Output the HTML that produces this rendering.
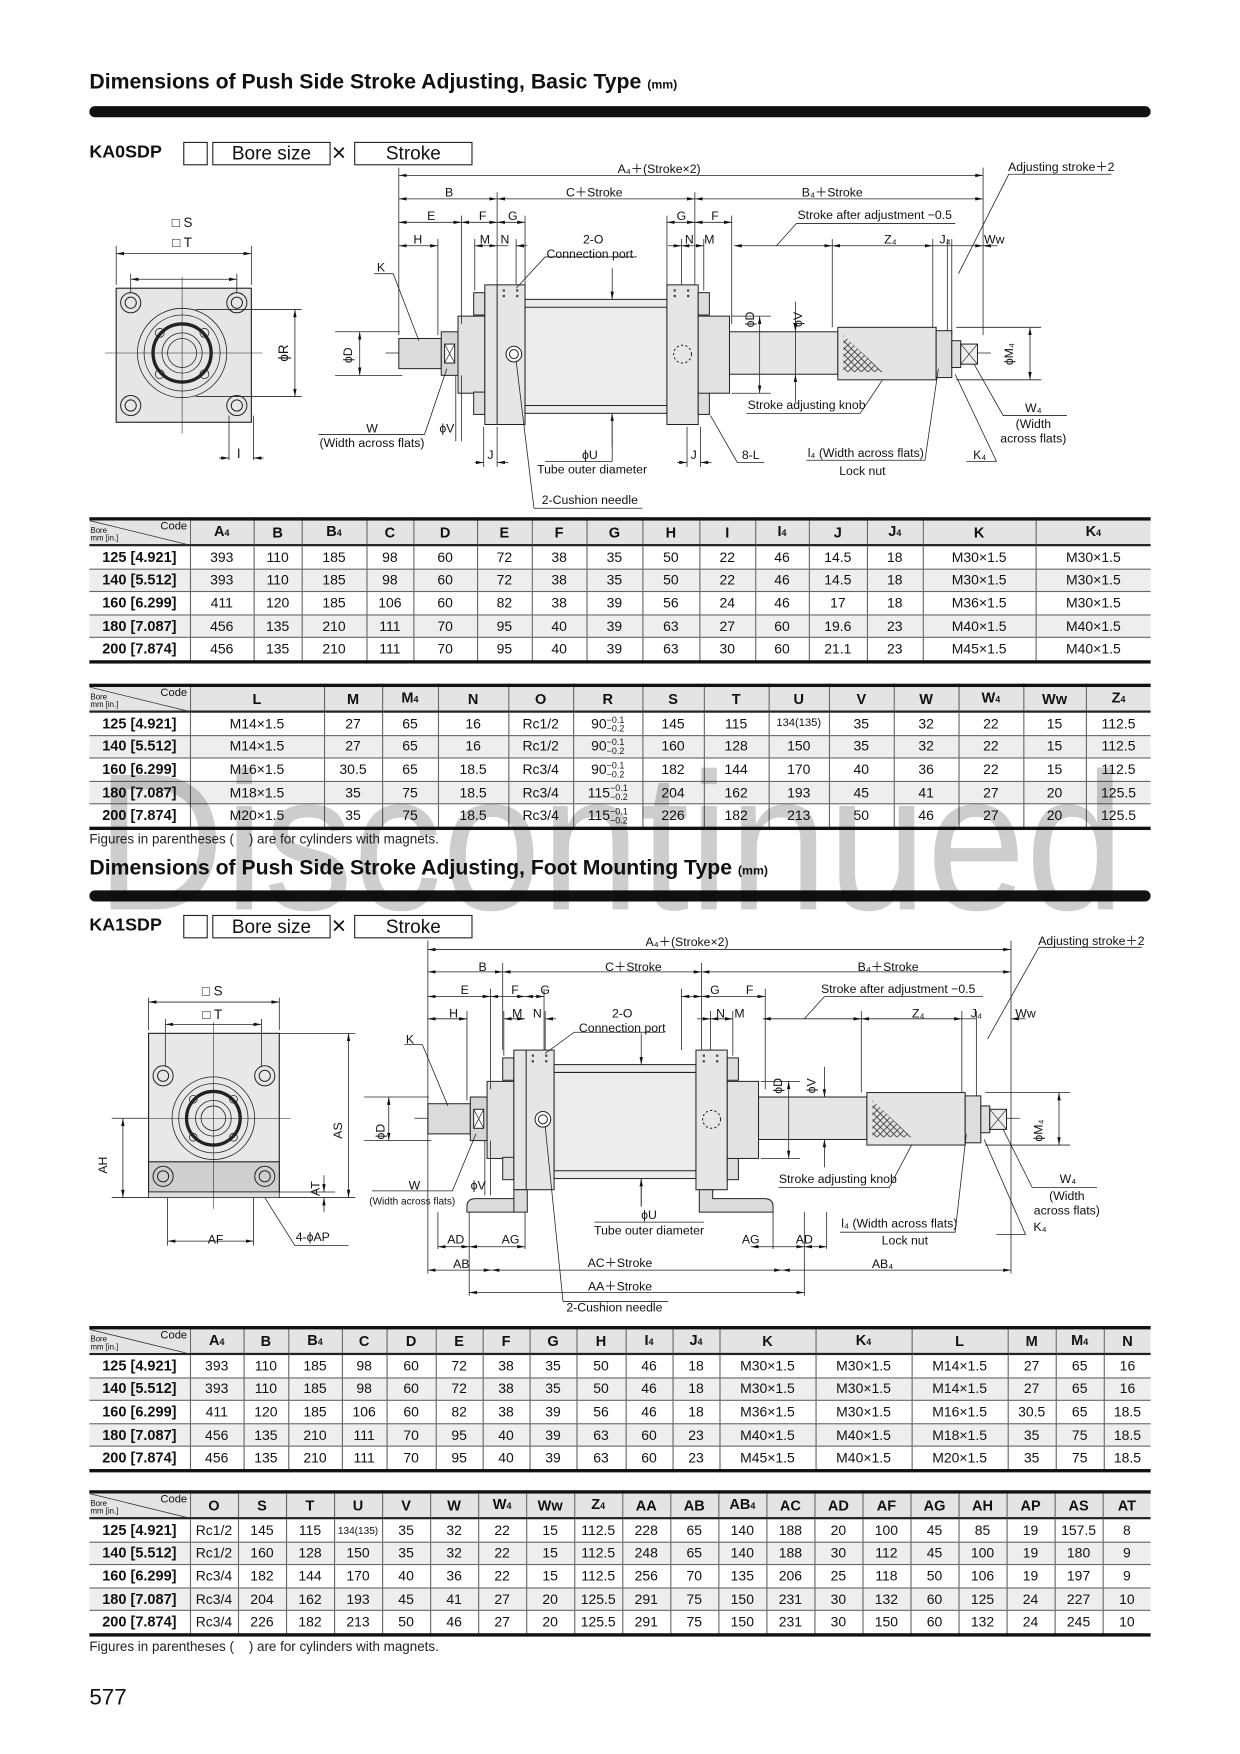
<!DOCTYPE html>
<html><head><meta charset="utf-8">
<style>
html,body{margin:0;padding:0;background:#fff;width:1240px;height:1754px;overflow:hidden}
#w{position:absolute;left:0;top:0;width:1110px;height:1570px;transform:scale(1.11712);transform-origin:0 0;font-family:"Liberation Sans",Arial,sans-serif;color:#111}
.a{position:absolute;white-space:nowrap}
.title{font-weight:bold;font-size:19px}
.title small{font-size:11px}
.bar{position:absolute;left:80px;width:950px;height:10px;background:#111;border-radius:5px}
.model{font-weight:bold;font-size:16px}
.bx{position:absolute;border:1px solid #222;height:19px;font-size:17px;line-height:19px;text-align:center}
table{position:absolute;border-collapse:collapse;table-layout:fixed;font-size:12.5px}
td,th{border:1px solid #666;text-align:center;padding:0;height:19.6px;line-height:18px;overflow:hidden;white-space:nowrap}
th{background:#e4e4e4;font-weight:bold;height:21px;font-size:13px}
tr.g td{background:#eeeeee}
td.b{font-weight:bold;font-size:13px}
table{border-top:3px solid #111;border-bottom:3px solid #111}
tr.h th{border-bottom:2px solid #222}
td:first-child,th:first-child{border-left:none}
td:last-child,th:last-child{border-right:none}
th.c{position:relative;font-weight:normal;background:#e4e4e4}
th.c span.t{position:absolute;right:2px;top:1px;font-size:10px;line-height:10px}
th.c span.l{position:absolute;left:1px;bottom:1px;font-size:7px;line-height:7px;text-align:left}
sub{font-size:8px;vertical-align:baseline}
.tol{display:inline-block;vertical-align:middle;font-size:8px;line-height:8px;text-align:left}
.note{font-size:12px;color:#222}
svg text{font-family:"Liberation Sans",Arial,sans-serif;fill:#111}
#wm{position:absolute;left:86px;top:655px;font-size:175px;color:#cdcdcd;mix-blend-mode:multiply;transform:scaleX(0.91);transform-origin:0 0;font-family:"Liberation Sans",Arial,sans-serif;line-height:200px;white-space:nowrap}
.x{position:absolute;font-size:22px;line-height:22px}
</style></head><body><div id="w">

<div class="a title" style="left:80px;top:63px">Dimensions of Push Side Stroke Adjusting, Basic Type <small>(mm)</small></div>
<div class="bar" style="top:95px"></div>
<div class="a model" style="left:80px;top:128px">KA0SDP</div>
<div class="bx" style="left:164px;top:127px;width:20px"></div>
<div class="bx" style="left:190px;top:127px;width:104px">Bore size</div>
<div class="x" style="left:297px;top:126px">×</div>
<div class="bx" style="left:317px;top:127px;width:104px">Stroke</div>

<svg class="a" style="left:0;top:0" width="1110" height="1570" viewBox="0 0 1110 1570">
<defs>
<marker id="ar" markerWidth="7" markerHeight="6" refX="7" refY="3" orient="auto-start-reverse" markerUnits="userSpaceOnUse"><path d="M0,1.5 L7,3 L0,4.5z" fill="#111"/></marker>
<pattern id="hx" width="6" height="6" patternUnits="userSpaceOnUse"><path d="M0,0L6,6M6,0L0,6" stroke="#333" stroke-width="0.7"/></pattern>
<g id="cyl" stroke="#222" stroke-width="0.9">
 <line x1="345" y1="316" x2="890" y2="316" stroke-dasharray="14,3,2,3" stroke-width="0.6"/>
 <rect x="357" y="303" width="38" height="27" fill="#dcdcdc"/>
 <rect x="395" y="297" width="15" height="39" fill="#d5d5d5"/>
 <rect x="398" y="308" width="9" height="17" fill="#fff"/><path d="M398,308L407,325M407,308L398,325" stroke-width="0.6"/>
 <rect x="410" y="283" width="24" height="69" fill="#e2e2e2"/>
 <rect x="424" y="262" width="10" height="20" fill="#ddd"/><rect x="424" y="351" width="10" height="20" fill="#ddd"/>
 <rect x="434" y="255" width="36" height="125" fill="#e6e6e6"/>
 <line x1="445" y1="255" x2="445" y2="380"/>
 <rect x="470" y="268" width="127" height="102" fill="#ececec"/>
 <line x1="470" y1="275" x2="597" y2="275"/><line x1="470" y1="363" x2="597" y2="363"/>
 <rect x="597" y="255" width="28" height="125" fill="#e6e6e6"/>
 <rect x="625" y="262" width="10" height="20" fill="#ddd"/><rect x="625" y="351" width="10" height="20" fill="#ddd"/>
 <rect x="625" y="283" width="28" height="69" fill="#e2e2e2"/>
 <rect x="653" y="297" width="97" height="38" fill="#e6e6e6"/>
 <rect x="750" y="293" width="88" height="47" fill="#e4e4e4"/>
 <path d="M755,300 L755,333 L790,333z" fill="url(#hx)" stroke="none"/>
 <rect x="838" y="296" width="14" height="42" fill="#ddd"/>
 <rect x="852" y="305" width="8" height="24" fill="#ddd"/>
 <rect x="860" y="308" width="15" height="18" fill="#eee"/><path d="M860,308L875,326M875,308L860,326" stroke-width="0.6"/>
 <circle cx="460" cy="317" r="7" fill="#fff"/><circle cx="460" cy="317" r="4" fill="none"/>
 <circle cx="611" cy="317" r="8" fill="none" stroke-dasharray="2,2"/>
 <g fill="#444" stroke="none"><rect x="450" y="259" width="2" height="2"/><rect x="450" y="264" width="2" height="2"/><rect x="462" y="259" width="2" height="2"/><rect x="462" y="264" width="2" height="2"/><rect x="603" y="259" width="2" height="2"/><rect x="603" y="264" width="2" height="2"/><rect x="615" y="259" width="2" height="2"/><rect x="615" y="264" width="2" height="2"/></g>
</g>
</defs>
<g stroke="#222" stroke-width="0.7" fill="none">
<rect x="104" y="258" width="121" height="120" fill="#e6e6e6" stroke-width="1"/>
<line x1="94" y1="316" x2="235" y2="316" stroke-width="0.5"/><line x1="163" y1="248" x2="163" y2="388" stroke-width="0.5"/>
<circle cx="163" cy="316" r="40"/><circle cx="163" cy="316" r="34"/><circle cx="163" cy="316" r="26" stroke-width="3"/><circle cx="163" cy="316" r="18"/><circle cx="163" cy="316" r="13"/>
<circle cx="143" cy="298" r="4"/><circle cx="183" cy="298" r="4"/><circle cx="143" cy="335" r="4"/><circle cx="183" cy="335" r="4"/>
<g stroke-width="0.9"><circle cx="117" cy="271" r="9"/><circle cx="117" cy="271" r="5"/><circle cx="212" cy="271" r="9"/><circle cx="212" cy="271" r="5"/><circle cx="117" cy="363" r="9"/><circle cx="117" cy="363" r="5"/><circle cx="212" cy="363" r="9"/><circle cx="212" cy="363" r="5"/></g>
<line x1="104" y1="220" x2="104" y2="255"/><line x1="225" y1="220" x2="225" y2="255"/>
<line x1="104" y1="227" x2="225" y2="227" marker-start="url(#ar)" marker-end="url(#ar)"/>
<line x1="117" y1="245" x2="117" y2="262"/><line x1="212" y1="245" x2="212" y2="262"/>
<line x1="117" y1="250" x2="212" y2="250" marker-start="url(#ar)" marker-end="url(#ar)"/>
<line x1="175" y1="277" x2="270" y2="277"/><line x1="175" y1="355" x2="270" y2="355"/>
<line x1="264" y1="277" x2="264" y2="355" marker-start="url(#ar)" marker-end="url(#ar)"/>
<line x1="205" y1="372" x2="205" y2="412"/><line x1="227" y1="372" x2="227" y2="412"/>
<line x1="196" y1="410" x2="205" y2="410" marker-end="url(#ar)"/><line x1="236" y1="410" x2="227" y2="410" marker-end="url(#ar)"/>
</g>
<text x="163" y="203" font-size="12" text-anchor="middle">□ S</text>
<text x="163" y="221" font-size="12" text-anchor="middle">□ T</text>
<text x="258" y="316" font-size="12" text-anchor="middle" transform="rotate(-90 258 316)">ϕR</text>
<text x="212" y="410" font-size="12">I</text>

<use href="#cyl"/>
<g stroke="#222" stroke-width="0.7" fill="none">
<line x1="357" y1="150" x2="357" y2="300"/><line x1="880" y1="150" x2="880" y2="300"/>
<line x1="445" y1="172" x2="445" y2="255"/><line x1="622" y1="172" x2="622" y2="255"/>
<line x1="413" y1="193" x2="413" y2="290"/><line x1="470" y1="193" x2="470" y2="255"/><line x1="597" y1="193" x2="597" y2="255"/><line x1="655" y1="193" x2="655" y2="290"/>
<line x1="392" y1="214" x2="392" y2="300"/><line x1="425" y1="214" x2="425" y2="260"/><line x1="462" y1="214" x2="462" y2="255"/><line x1="610" y1="214" x2="610" y2="255"/><line x1="630" y1="214" x2="630" y2="260"/>
<line x1="745" y1="214" x2="745" y2="293"/><line x1="835" y1="214" x2="835" y2="293"/><line x1="848" y1="214" x2="848" y2="296"/><line x1="852" y1="214" x2="852" y2="300"/>
<line x1="357" y1="157" x2="880" y2="157" marker-start="url(#ar)" marker-end="url(#ar)"/>
<line x1="357" y1="178" x2="445" y2="178" marker-start="url(#ar)" marker-end="url(#ar)"/>
<line x1="445" y1="178" x2="622" y2="178" marker-start="url(#ar)" marker-end="url(#ar)"/>
<line x1="622" y1="178" x2="880" y2="178" marker-start="url(#ar)" marker-end="url(#ar)"/>
<line x1="357" y1="199" x2="413" y2="199" marker-start="url(#ar)" marker-end="url(#ar)"/>
<line x1="413" y1="199" x2="445" y2="199" marker-start="url(#ar)" marker-end="url(#ar)"/>
<line x1="445" y1="199" x2="470" y2="199" marker-start="url(#ar)" marker-end="url(#ar)"/>
<line x1="597" y1="199" x2="622" y2="199" marker-start="url(#ar)" marker-end="url(#ar)"/>
<line x1="622" y1="199" x2="655" y2="199" marker-start="url(#ar)" marker-end="url(#ar)"/>
<line x1="357" y1="220" x2="392" y2="220" marker-start="url(#ar)" marker-end="url(#ar)"/>
<line x1="425" y1="220" x2="445" y2="220" marker-start="url(#ar)" marker-end="url(#ar)"/>
<line x1="445" y1="220" x2="455" y2="220"/><line x1="472" y1="220" x2="462" y2="220" marker-end="url(#ar)"/>
<line x1="598" y1="220" x2="610" y2="220" marker-end="url(#ar)"/>
<line x1="610" y1="220" x2="630" y2="220" marker-start="url(#ar)" marker-end="url(#ar)"/>
<line x1="657" y1="220" x2="745" y2="220" marker-start="url(#ar)" marker-end="url(#ar)"/>
<line x1="745" y1="220" x2="835" y2="220" marker-start="url(#ar)" marker-end="url(#ar)"/>
<line x1="835" y1="220" x2="848" y2="220"/><line x1="848" y1="220" x2="880" y2="220" marker-end="url(#ar)"/><line x1="893" y1="220" x2="880" y2="220" marker-end="url(#ar)"/>
<path d="M855,200 L713,200 L695,220"/>
<path d="M995,156 L903,156 L858,245"/>
<path d="M570,230 L488,230 L462,258"/>
<line x1="335" y1="245" x2="352" y2="245"/><line x1="352" y1="245" x2="375" y2="305"/>
<line x1="300" y1="297" x2="358" y2="297"/><line x1="300" y1="336" x2="360" y2="336"/>
<line x1="322" y1="297" x2="322" y2="336" marker-start="url(#ar)" marker-end="url(#ar)"/>
<path d="M285,389 L380,389 L400,330"/>
<line x1="408" y1="336" x2="408" y2="395"/><line x1="413" y1="336" x2="413" y2="395"/>
<line x1="433" y1="382" x2="433" y2="418"/><line x1="445" y1="382" x2="445" y2="418"/>
<line x1="425" y1="414" x2="433" y2="414" marker-end="url(#ar)"/><line x1="455" y1="414" x2="445" y2="414" marker-end="url(#ar)"/>
<line x1="462" y1="323" x2="478" y2="455"/><line x1="478" y1="455" x2="575" y2="455"/>
<line x1="548" y1="240" x2="548" y2="268" marker-end="url(#ar)"/><line x1="548" y1="400" x2="548" y2="370" marker-end="url(#ar)"/>
<line x1="488" y1="413" x2="548" y2="413"/><line x1="548" y1="370" x2="548" y2="413"/>
<line x1="615" y1="382" x2="615" y2="418"/><line x1="627" y1="382" x2="627" y2="418"/>
<line x1="606" y1="414" x2="615" y2="414" marker-end="url(#ar)"/><line x1="637" y1="414" x2="627" y2="414" marker-end="url(#ar)"/>
<path d="M636,372 L660,414 L684,414"/>
<line x1="655" y1="283" x2="690" y2="283"/><line x1="655" y1="352" x2="690" y2="352"/>
<line x1="680" y1="283" x2="680" y2="352" marker-start="url(#ar)" marker-end="url(#ar)"/>
<line x1="712" y1="270" x2="712" y2="297" marker-end="url(#ar)"/><line x1="712" y1="360" x2="712" y2="335" marker-end="url(#ar)"/><line x1="712" y1="297" x2="712" y2="335"/>
<path d="M668,370 L770,370 L790,340"/>
<line x1="856" y1="293" x2="932" y2="293"/><line x1="856" y1="340" x2="932" y2="340"/>
<line x1="922" y1="293" x2="922" y2="340" marker-start="url(#ar)" marker-end="url(#ar)"/>
<path d="M722,412 L828,412 L840,330"/>
<path d="M865,413 L892,413 L855,335"/>
<path d="M955,372 L898,372 L872,326"/>
</g>
<g font-size="11" text-anchor="middle">
<text x="590" y="155">A₄＋(Stroke×2)</text>
<text x="402" y="176">B</text><text x="532" y="176">C＋Stroke</text><text x="745" y="176">B₄＋Stroke</text>
<text x="386" y="197">E</text><text x="432" y="197">F</text><text x="459" y="197">G</text><text x="610" y="197">G</text><text x="640" y="197">F</text>
<text x="783" y="196">Stroke after adjustment −0.5</text>
<text x="950" y="153">Adjusting stroke＋2</text>
<text x="374" y="218">H</text><text x="434" y="218">M</text><text x="452" y="218">N</text><text x="617" y="218">N</text><text x="635" y="218">M</text>
<text x="797" y="218">Z₄</text><text x="846" y="218">J₄</text><text x="890" y="218">Ww</text>
<text x="531" y="218">2-O</text><text x="528" y="231">Connection port</text>
<text x="341" y="243">K</text>
<text x="315" y="318" transform="rotate(-90 315 318)">ϕD</text>
<text x="675" y="286" transform="rotate(-90 675 286)">ϕD</text>
<text x="718" y="286" transform="rotate(-90 718 286)">ϕV</text>
<text x="907" y="317" transform="rotate(-90 907 317)">ϕM₄</text>
<text x="333" y="387">W</text><text x="333" y="400">(Width across flats)</text>
<text x="400" y="387">ϕV</text>
<text x="439" y="411">J</text><text x="621" y="411">J</text>
<text x="528" y="411">ϕU</text><text x="530" y="424">Tube outer diameter</text>
<text x="672" y="411">8-L</text>
<text x="528" y="451">2-Cushion needle</text>
<text x="722" y="366">Stroke adjusting knob</text>
<text x="775" y="409">l₄ (Width across flats)</text><text x="772" y="425">Lock nut</text>
<text x="877" y="411">K₄</text>
<text x="925" y="369">W₄</text><text x="925" y="383">(Width</text><text x="925" y="396">across flats)</text>
</g>

<g stroke="#222" stroke-width="0.7" fill="none">
<rect x="133" y="925" width="117" height="142" fill="#e8e8e8" stroke-width="1"/>
<rect x="133" y="1040" width="117" height="27" fill="#cfcfcf" stroke-width="1"/>
<rect x="133" y="1067" width="117" height="5" fill="#ddd"/>
<line x1="120" y1="1001" x2="260" y2="1001" stroke-width="0.5"/><line x1="191" y1="915" x2="191" y2="1082" stroke-width="0.5"/>
<circle cx="191" cy="1001" r="37"/><circle cx="191" cy="1001" r="31"/><circle cx="191" cy="1001" r="24" stroke-width="3"/><circle cx="191" cy="1001" r="16"/><circle cx="191" cy="1001" r="11"/>
<circle cx="173" cy="984" r="3.5"/><circle cx="209" cy="984" r="3.5"/><circle cx="173" cy="1018" r="3.5"/><circle cx="209" cy="1018" r="3.5"/>
<g stroke-width="0.9"><circle cx="146" cy="963" r="9"/><circle cx="146" cy="963" r="5"/><circle cx="237" cy="963" r="9"/><circle cx="237" cy="963" r="5"/><circle cx="146" cy="1053" r="9"/><circle cx="146" cy="1053" r="5"/><circle cx="237" cy="1053" r="9"/><circle cx="237" cy="1053" r="5"/></g>
<line x1="133" y1="893" x2="133" y2="922"/><line x1="250" y1="893" x2="250" y2="922"/>
<line x1="133" y1="897" x2="250" y2="897" marker-start="url(#ar)" marker-end="url(#ar)"/>
<line x1="148" y1="912" x2="148" y2="955"/><line x1="234" y1="912" x2="234" y2="955"/>
<line x1="148" y1="917" x2="234" y2="917" marker-start="url(#ar)" marker-end="url(#ar)"/>
<line x1="250" y1="925" x2="318" y2="925"/><line x1="250" y1="1072" x2="318" y2="1072"/>
<line x1="312" y1="925" x2="312" y2="1072" marker-start="url(#ar)" marker-end="url(#ar)"/>
<line x1="100" y1="1001" x2="133" y2="1001"/><line x1="100" y1="1072" x2="133" y2="1072"/>
<line x1="110" y1="1001" x2="110" y2="1072" marker-start="url(#ar)" marker-end="url(#ar)"/>
<line x1="250" y1="1067" x2="300" y2="1067"/>
<line x1="290" y1="1052" x2="290" y2="1067" marker-end="url(#ar)"/><line x1="290" y1="1085" x2="290" y2="1072" marker-end="url(#ar)"/>
<line x1="150" y1="1072" x2="150" y2="1115"/><line x1="227" y1="1072" x2="227" y2="1115"/>
<line x1="150" y1="1111" x2="227" y2="1111" marker-start="url(#ar)" marker-end="url(#ar)"/>
<path d="M312,1115 L264,1115 L237,1072"/>
</g>
<text x="190" y="891" font-size="12" text-anchor="middle">□ S</text>
<text x="190" y="912" font-size="12" text-anchor="middle">□ T</text>
<text x="306" y="1012" font-size="11" text-anchor="middle" transform="rotate(-90 306 1012)">AS</text>
<text x="96" y="1043" font-size="11" text-anchor="middle" transform="rotate(-90 96 1043)">AH</text>
<text x="286" y="1064" font-size="11" text-anchor="middle" transform="rotate(-90 286 1064)">AT</text>
<text x="193" y="1113" font-size="11" text-anchor="middle">AF</text>
<text x="280" y="1111" font-size="11" text-anchor="middle">4-ϕAP</text>

<g transform="translate(26,685)">
<use href="#cyl"/>
<g stroke="#222" stroke-width="0.9" fill="#dcdcdc">
<path d="M434,380 L434,388 L400,388 Q392,388 392,395 L392,400 L434,400 L434,380 L446,380 L446,400 L434,400z"/>
<path d="M600,380 L600,400 L666,400 L666,395 Q666,388 658,388 L612,388 L612,380z"/>
</g>
</g>
<g stroke="#222" stroke-width="0.7" fill="none">
<line x1="383" y1="842" x2="383" y2="1140"/><line x1="905" y1="842" x2="905" y2="1140"/>
<line x1="383" y1="850" x2="905" y2="850" marker-start="url(#ar)" marker-end="url(#ar)"/>
<line x1="450" y1="862" x2="450" y2="940"/><line x1="628" y1="862" x2="628" y2="940"/>
<line x1="383" y1="870" x2="450" y2="870" marker-start="url(#ar)" marker-end="url(#ar)"/>
<line x1="450" y1="870" x2="628" y2="870" marker-start="url(#ar)" marker-end="url(#ar)"/>
<line x1="628" y1="870" x2="905" y2="870" marker-start="url(#ar)" marker-end="url(#ar)"/>
<line x1="439" y1="885" x2="439" y2="975"/><line x1="487" y1="885" x2="487" y2="940"/><line x1="610" y1="885" x2="610" y2="940"/><line x1="685" y1="885" x2="685" y2="975"/>
<line x1="383" y1="892" x2="439" y2="892" marker-start="url(#ar)" marker-end="url(#ar)"/>
<line x1="439" y1="892" x2="470" y2="892" marker-start="url(#ar)" marker-end="url(#ar)"/>
<line x1="470" y1="892" x2="487" y2="892" marker-start="url(#ar)" marker-end="url(#ar)"/>
<line x1="610" y1="892" x2="628" y2="892" marker-start="url(#ar)" marker-end="url(#ar)"/>
<line x1="628" y1="892" x2="685" y2="892" marker-start="url(#ar)" marker-end="url(#ar)"/>
<line x1="418" y1="905" x2="418" y2="985"/><line x1="451" y1="905" x2="451" y2="945"/><line x1="488" y1="905" x2="488" y2="940"/><line x1="636" y1="905" x2="636" y2="940"/><line x1="656" y1="905" x2="656" y2="945"/>
<line x1="771" y1="905" x2="771" y2="978"/><line x1="861" y1="905" x2="861" y2="978"/><line x1="874" y1="905" x2="874" y2="981"/>
<line x1="383" y1="912" x2="418" y2="912" marker-start="url(#ar)" marker-end="url(#ar)"/>
<line x1="451" y1="912" x2="470" y2="912" marker-start="url(#ar)" marker-end="url(#ar)"/>
<line x1="498" y1="912" x2="488" y2="912" marker-end="url(#ar)"/>
<line x1="624" y1="912" x2="636" y2="912" marker-end="url(#ar)"/>
<line x1="636" y1="912" x2="656" y2="912" marker-start="url(#ar)" marker-end="url(#ar)"/>
<line x1="683" y1="912" x2="771" y2="912" marker-start="url(#ar)" marker-end="url(#ar)"/>
<line x1="771" y1="912" x2="861" y2="912" marker-start="url(#ar)" marker-end="url(#ar)"/>
<line x1="861" y1="912" x2="874" y2="912"/><line x1="918" y1="912" x2="905" y2="912" marker-end="url(#ar)"/>
<path d="M880,892 L738,892 L720,912"/>
<path d="M1022,848 L930,848 L884,930"/>
<path d="M595,924 L514,924 L488,943"/>
<line x1="362" y1="935" x2="378" y2="935"/><line x1="378" y1="935" x2="401" y2="990"/>
<line x1="326" y1="982" x2="384" y2="982"/><line x1="326" y1="1021" x2="386" y2="1021"/>
<line x1="348" y1="982" x2="348" y2="1021" marker-start="url(#ar)" marker-end="url(#ar)"/>
<path d="M333,1066 L405,1066 L426,1015"/>
<line x1="434" y1="1021" x2="434" y2="1070"/><line x1="439" y1="1021" x2="439" y2="1070"/>
<line x1="488" y1="1008" x2="504" y2="1165"/><line x1="504" y1="1165" x2="598" y2="1165"/>
<line x1="574" y1="925" x2="574" y2="953" marker-end="url(#ar)"/><line x1="574" y1="1080" x2="574" y2="1055" marker-end="url(#ar)"/><line x1="574" y1="1055" x2="574" y2="1080"/>
<line x1="532" y1="1094" x2="630" y2="1094"/>
<line x1="681" y1="968" x2="716" y2="968"/><line x1="681" y1="1037" x2="716" y2="1037"/>
<line x1="706" y1="968" x2="706" y2="1037" marker-start="url(#ar)" marker-end="url(#ar)"/>
<line x1="738" y1="955" x2="738" y2="982" marker-end="url(#ar)"/><line x1="738" y1="1045" x2="738" y2="1020" marker-end="url(#ar)"/>
<path d="M697,1063 L796,1063 L816,1025"/>
<line x1="882" y1="978" x2="958" y2="978"/><line x1="882" y1="1025" x2="958" y2="1025"/>
<line x1="948" y1="978" x2="948" y2="1025" marker-start="url(#ar)" marker-end="url(#ar)"/>
<path d="M752,1103 L855,1103 L865,1015"/>
<path d="M892,1105 L918,1105 L881,1020"/>
<path d="M982,1063 L924,1063 L898,1011"/>
<line x1="392" y1="1085" x2="392" y2="1118"/><line x1="420" y1="1085" x2="420" y2="1160"/><line x1="470" y1="1085" x2="470" y2="1118"/>
<line x1="692" y1="1085" x2="692" y2="1118"/><line x1="720" y1="1085" x2="720" y2="1160"/><line x1="740" y1="1085" x2="740" y2="1118"/>
<line x1="392" y1="1116" x2="420" y2="1116" marker-start="url(#ar)" marker-end="url(#ar)"/>
<line x1="420" y1="1116" x2="470" y2="1116" marker-start="url(#ar)" marker-end="url(#ar)"/>
<line x1="672" y1="1116" x2="720" y2="1116" marker-start="url(#ar)" marker-end="url(#ar)"/>
<line x1="720" y1="1116" x2="740" y2="1116" marker-start="url(#ar)" marker-end="url(#ar)"/>
<line x1="383" y1="1137" x2="440" y2="1137" marker-start="url(#ar)" marker-end="url(#ar)"/>
<line x1="440" y1="1137" x2="700" y2="1137" marker-start="url(#ar)" marker-end="url(#ar)"/>
<line x1="700" y1="1137" x2="905" y2="1137" marker-start="url(#ar)" marker-end="url(#ar)"/>
<line x1="420" y1="1157" x2="720" y2="1157" marker-start="url(#ar)" marker-end="url(#ar)"/>
</g>
<g font-size="11" text-anchor="middle">
<text x="615" y="847">A₄＋(Stroke×2)</text>
<text x="432" y="869">B</text><text x="567" y="869">C＋Stroke</text><text x="795" y="869">B₄＋Stroke</text>
<text x="416" y="890">E</text><text x="461" y="890">F</text><text x="488" y="890">G</text><text x="640" y="890">G</text><text x="671" y="890">F</text>
<text x="804" y="889">Stroke after adjustment −0.5</text>
<text x="977" y="846">Adjusting stroke＋2</text>
<text x="406" y="911">H</text><text x="463" y="911">M</text><text x="481" y="911">N</text><text x="645" y="911">N</text><text x="662" y="911">M</text>
<text x="822" y="911">Z₄</text><text x="874" y="911">J₄</text><text x="918" y="911">Ww</text>
<text x="557" y="911">2-O</text><text x="557" y="924">Connection port</text>
<text x="367" y="934">K</text>
<text x="344" y="1013" transform="rotate(-90 344 1013)">ϕD</text>
<text x="700" y="972" transform="rotate(-90 700 972)">ϕD</text>
<text x="730" y="972" transform="rotate(-90 730 972)">ϕV</text>
<text x="933" y="1012" transform="rotate(-90 933 1012)">ϕM₄</text>
<text x="371" y="1065">W</text><text x="369" y="1078" font-size="9">(Width across flats)</text>
<text x="428" y="1065">ϕV</text>
<text x="581" y="1091">ϕU</text><text x="581" y="1105">Tube outer diameter</text>
<text x="750" y="1059">Stroke adjusting knob</text>
<text x="805" y="1099">l₄ (Width across flats)</text><text x="810" y="1114">Lock nut</text>
<text x="931" y="1102">K₄</text>
<text x="956" y="1059">W₄</text><text x="955" y="1074">(Width</text><text x="955" y="1087">across flats)</text>
<text x="408" y="1113">AD</text><text x="457" y="1113">AG</text><text x="672" y="1113">AG</text><text x="720" y="1113">AD</text>
<text x="413" y="1135">AB</text><text x="555" y="1134">AC＋Stroke</text><text x="790" y="1135">AB₄</text>
<text x="555" y="1155">AA＋Stroke</text>
<text x="550" y="1174">2-Cushion needle</text>
</g>
</svg>

<table style="left:80px;top:463px;width:950px">
<colgroup><col style="width:90px"><col style="width:57px"><col style="width:43px"><col style="width:58px"><col style="width:42px"><col style="width:57px"><col style="width:49px"><col style="width:49px"><col style="width:50px"><col style="width:51px"><col style="width:50px"><col style="width:48px"><col style="width:52px"><col style="width:50px"><col style="width:101px"><col style="width:103px"></colgroup>
<tr class="h"><th class="c"><span class="t">Code</span><span class="l">Bore<br>mm [in.]</span><svg style="position:absolute;left:0;top:0" width="90" height="22"><line x1="0" y1="0" x2="90" y2="22" stroke="#333" stroke-width="0.7"/></svg></th><th>A<sub>4</sub></th><th>B</th><th>B<sub>4</sub></th><th>C</th><th>D</th><th>E</th><th>F</th><th>G</th><th>H</th><th>I</th><th>I<sub>4</sub></th><th>J</th><th>J<sub>4</sub></th><th>K</th><th>K<sub>4</sub></th></tr>
<tr><td class="b">125 [4.921]</td><td>393</td><td>110</td><td>185</td><td>98</td><td>60</td><td>72</td><td>38</td><td>35</td><td>50</td><td>22</td><td>46</td><td>14.5</td><td>18</td><td>M30×1.5</td><td>M30×1.5</td></tr>
<tr class="g"><td class="b">140 [5.512]</td><td>393</td><td>110</td><td>185</td><td>98</td><td>60</td><td>72</td><td>38</td><td>35</td><td>50</td><td>22</td><td>46</td><td>14.5</td><td>18</td><td>M30×1.5</td><td>M30×1.5</td></tr>
<tr><td class="b">160 [6.299]</td><td>411</td><td>120</td><td>185</td><td>106</td><td>60</td><td>82</td><td>38</td><td>39</td><td>56</td><td>24</td><td>46</td><td>17</td><td>18</td><td>M36×1.5</td><td>M30×1.5</td></tr>
<tr class="g"><td class="b">180 [7.087]</td><td>456</td><td>135</td><td>210</td><td>111</td><td>70</td><td>95</td><td>40</td><td>39</td><td>63</td><td>27</td><td>60</td><td>19.6</td><td>23</td><td>M40×1.5</td><td>M40×1.5</td></tr>
<tr><td class="b">200 [7.874]</td><td>456</td><td>135</td><td>210</td><td>111</td><td>70</td><td>95</td><td>40</td><td>39</td><td>63</td><td>30</td><td>60</td><td>21.1</td><td>23</td><td>M45×1.5</td><td>M40×1.5</td></tr>
</table>

<table style="left:80px;top:612px;width:950px">
<colgroup><col style="width:90px"><col style="width:120px"><col style="width:52px"><col style="width:50px"><col style="width:63px"><col style="width:58px"><col style="width:62px"><col style="width:55px"><col style="width:58px"><col style="width:54px"><col style="width:58px"><col style="width:58px"><col style="width:58px"><col style="width:56px"><col style="width:58px"></colgroup>
<tr class="h"><th class="c"><span class="t">Code</span><span class="l">Bore<br>mm [in.]</span><svg style="position:absolute;left:0;top:0" width="90" height="22"><line x1="0" y1="0" x2="90" y2="22" stroke="#333" stroke-width="0.7"/></svg></th><th>L</th><th>M</th><th>M<sub>4</sub></th><th>N</th><th>O</th><th>R</th><th>S</th><th>T</th><th>U</th><th>V</th><th>W</th><th>W<sub>4</sub></th><th>Ww</th><th>Z<sub>4</sub></th></tr>
<tr><td class="b">125 [4.921]</td><td>M14×1.5</td><td>27</td><td>65</td><td>16</td><td>Rc1/2</td><td>90<span class="tol">−0.1<br>−0.2</span></td><td>145</td><td>115</td><td style="font-size:10px">134(135)</td><td>35</td><td>32</td><td>22</td><td>15</td><td>112.5</td></tr>
<tr class="g"><td class="b">140 [5.512]</td><td>M14×1.5</td><td>27</td><td>65</td><td>16</td><td>Rc1/2</td><td>90<span class="tol">−0.1<br>−0.2</span></td><td>160</td><td>128</td><td>150</td><td>35</td><td>32</td><td>22</td><td>15</td><td>112.5</td></tr>
<tr><td class="b">160 [6.299]</td><td>M16×1.5</td><td>30.5</td><td>65</td><td>18.5</td><td>Rc3/4</td><td>90<span class="tol">−0.1<br>−0.2</span></td><td>182</td><td>144</td><td>170</td><td>40</td><td>36</td><td>22</td><td>15</td><td>112.5</td></tr>
<tr class="g"><td class="b">180 [7.087]</td><td>M18×1.5</td><td>35</td><td>75</td><td>18.5</td><td>Rc3/4</td><td>115<span class="tol">−0.1<br>−0.2</span></td><td>204</td><td>162</td><td>193</td><td>45</td><td>41</td><td>27</td><td>20</td><td>125.5</td></tr>
<tr><td class="b">200 [7.874]</td><td>M20×1.5</td><td>35</td><td>75</td><td>18.5</td><td>Rc3/4</td><td>115<span class="tol">−0.1<br>−0.2</span></td><td>226</td><td>182</td><td>213</td><td>50</td><td>46</td><td>27</td><td>20</td><td>125.5</td></tr>
</table>
<div class="a note" style="left:80px;top:744px">Figures in parentheses (&nbsp;&nbsp;&nbsp;&nbsp;) are for cylinders with magnets.</div>

<div class="a title" style="left:80px;top:767px">Dimensions of Push Side Stroke Adjusting, Foot Mounting Type <small>(mm)</small></div>
<div class="bar" style="top:797px"></div>
<div class="a model" style="left:80px;top:820px">KA1SDP</div>
<div class="bx" style="left:164px;top:819px;width:20px"></div>
<div class="bx" style="left:190px;top:819px;width:104px">Bore size</div>
<div class="x" style="left:297px;top:818px">×</div>
<div class="bx" style="left:317px;top:819px;width:104px">Stroke</div>

<table style="left:80px;top:1187px;width:950px">
<colgroup><col style="width:90px"><col style="width:48px"><col style="width:40px"><col style="width:48px"><col style="width:40px"><col style="width:44px"><col style="width:42px"><col style="width:42px"><col style="width:42px"><col style="width:44px"><col style="width:42px"><col style="width:42px"><col style="width:86px"><col style="width:86px"><col style="width:86px"><col style="width:43px"><col style="width:43px"><col style="width:42px"></colgroup>
<tr class="h"><th class="c"><span class="t">Code</span><span class="l">Bore<br>mm [in.]</span><svg style="position:absolute;left:0;top:0" width="90" height="22"><line x1="0" y1="0" x2="90" y2="22" stroke="#333" stroke-width="0.7"/></svg></th><th>A<sub>4</sub></th><th>B</th><th>B<sub>4</sub></th><th>C</th><th>D</th><th>E</th><th>F</th><th>G</th><th>H</th><th>I<sub>4</sub></th><th>J<sub>4</sub></th><th>K</th><th>K<sub>4</sub></th><th>L</th><th>M</th><th>M<sub>4</sub></th><th>N</th></tr>
<tr><td class="b">125 [4.921]</td><td>393</td><td>110</td><td>185</td><td>98</td><td>60</td><td>72</td><td>38</td><td>35</td><td>50</td><td>46</td><td>18</td><td>M30×1.5</td><td>M30×1.5</td><td>M14×1.5</td><td>27</td><td>65</td><td>16</td></tr>
<tr class="g"><td class="b">140 [5.512]</td><td>393</td><td>110</td><td>185</td><td>98</td><td>60</td><td>72</td><td>38</td><td>35</td><td>50</td><td>46</td><td>18</td><td>M30×1.5</td><td>M30×1.5</td><td>M14×1.5</td><td>27</td><td>65</td><td>16</td></tr>
<tr><td class="b">160 [6.299]</td><td>411</td><td>120</td><td>185</td><td>106</td><td>60</td><td>82</td><td>38</td><td>39</td><td>56</td><td>46</td><td>18</td><td>M36×1.5</td><td>M30×1.5</td><td>M16×1.5</td><td>30.5</td><td>65</td><td>18.5</td></tr>
<tr class="g"><td class="b">180 [7.087]</td><td>456</td><td>135</td><td>210</td><td>111</td><td>70</td><td>95</td><td>40</td><td>39</td><td>63</td><td>60</td><td>23</td><td>M40×1.5</td><td>M40×1.5</td><td>M18×1.5</td><td>35</td><td>75</td><td>18.5</td></tr>
<tr><td class="b">200 [7.874]</td><td>456</td><td>135</td><td>210</td><td>111</td><td>70</td><td>95</td><td>40</td><td>39</td><td>63</td><td>60</td><td>23</td><td>M45×1.5</td><td>M40×1.5</td><td>M20×1.5</td><td>35</td><td>75</td><td>18.5</td></tr>
</table>

<table style="left:80px;top:1334px;width:950px">
<colgroup><col style="width:90px"><col style="width:43px" span="20"></colgroup>
<tr class="h"><th class="c"><span class="t">Code</span><span class="l">Bore<br>mm [in.]</span><svg style="position:absolute;left:0;top:0" width="90" height="22"><line x1="0" y1="0" x2="90" y2="22" stroke="#333" stroke-width="0.7"/></svg></th><th>O</th><th>S</th><th>T</th><th>U</th><th>V</th><th>W</th><th>W<sub>4</sub></th><th>Ww</th><th>Z<sub>4</sub></th><th>AA</th><th>AB</th><th>AB<sub>4</sub></th><th>AC</th><th>AD</th><th>AF</th><th>AG</th><th>AH</th><th>AP</th><th>AS</th><th>AT</th></tr>
<tr><td class="b">125 [4.921]</td><td>Rc1/2</td><td>145</td><td>115</td><td style="font-size:9px">134(135)</td><td>35</td><td>32</td><td>22</td><td>15</td><td>112.5</td><td>228</td><td>65</td><td>140</td><td>188</td><td>20</td><td>100</td><td>45</td><td>85</td><td>19</td><td>157.5</td><td>8</td></tr>
<tr class="g"><td class="b">140 [5.512]</td><td>Rc1/2</td><td>160</td><td>128</td><td>150</td><td>35</td><td>32</td><td>22</td><td>15</td><td>112.5</td><td>248</td><td>65</td><td>140</td><td>188</td><td>30</td><td>112</td><td>45</td><td>100</td><td>19</td><td>180</td><td>9</td></tr>
<tr><td class="b">160 [6.299]</td><td>Rc3/4</td><td>182</td><td>144</td><td>170</td><td>40</td><td>36</td><td>22</td><td>15</td><td>112.5</td><td>256</td><td>70</td><td>135</td><td>206</td><td>25</td><td>118</td><td>50</td><td>106</td><td>19</td><td>197</td><td>9</td></tr>
<tr class="g"><td class="b">180 [7.087]</td><td>Rc3/4</td><td>204</td><td>162</td><td>193</td><td>45</td><td>41</td><td>27</td><td>20</td><td>125.5</td><td>291</td><td>75</td><td>150</td><td>231</td><td>30</td><td>132</td><td>60</td><td>125</td><td>24</td><td>227</td><td>10</td></tr>
<tr><td class="b">200 [7.874]</td><td>Rc3/4</td><td>226</td><td>182</td><td>213</td><td>50</td><td>46</td><td>27</td><td>20</td><td>125.5</td><td>291</td><td>75</td><td>150</td><td>231</td><td>30</td><td>150</td><td>60</td><td>132</td><td>24</td><td>245</td><td>10</td></tr>
</table>
<div class="a note" style="left:80px;top:1467px">Figures in parentheses (&nbsp;&nbsp;&nbsp;&nbsp;) are for cylinders with magnets.</div>
<div class="a" style="left:80px;top:1509px;font-size:20px">577</div>

<div id="wm">Discontinued</div>
</div></body></html>
